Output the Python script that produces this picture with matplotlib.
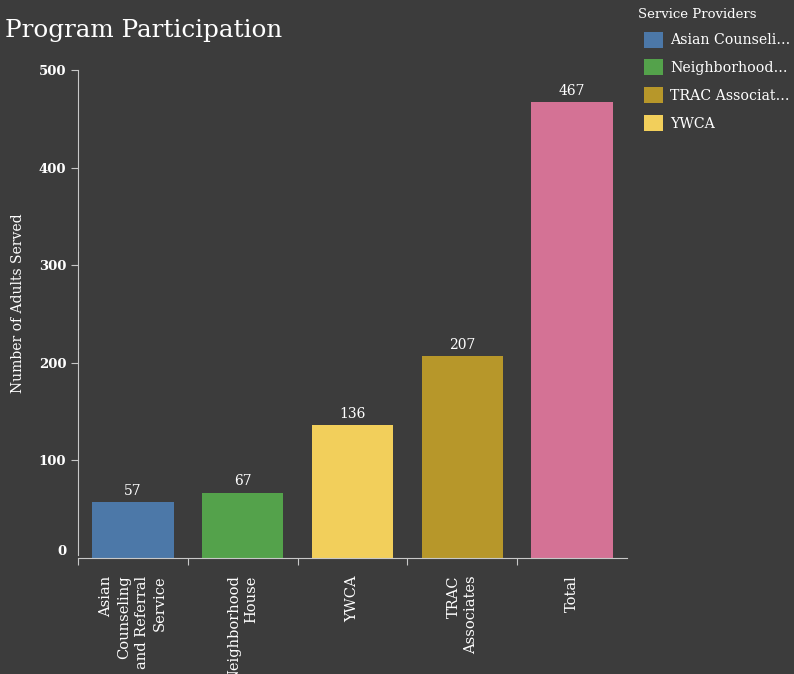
import matplotlib.pyplot as plt
from matplotlib.patches import Patch

providers = ['Asian\nCounseling\nand Referral\nService', 'Neighborhood\nHouse', 'YWCA', 'TRAC\nAssociates', 'Total']
adults_served = [57, 67, 136, 207, 467]
bar_colors = ['#4c78a8', '#54a24b', '#f2cf5b', '#b7972a', '#d47295']

legend_names = ['Asian Counseli…', 'Neighborhood…', 'TRAC Associat…', 'YWCA']
legend_colors = ['#4c78a8', '#54a24b', '#b7972a', '#f2cf5b']

bg = '#3c3c3c'
fg = '#ffffff'
axis_col = '#c8c8c8'

plt.rcParams['font.family'] = 'DejaVu Serif'

fig = plt.figure(figsize=(7.94, 6.74), dpi=100, facecolor=bg)
ax = fig.add_axes([78 / 794, 116 / 674, 549 / 794, 488 / 674])
ax.set_facecolor(bg)

x = list(range(len(adults_served)))
ax.bar(x, adults_served, width=0.74, color=bar_colors)
ax.set_xlim(-0.5, len(x) - 0.5)
ax.set_ylim(0, 500)

for xi, v in zip(x, adults_served):
    ax.annotate(str(v), (xi, v), xytext=(0, 3), textcoords='offset points',
                ha='center', va='bottom', color=fg, fontsize=10)

for s in ['top', 'right']:
    ax.spines[s].set_visible(False)
for s in ['left', 'bottom']:
    ax.spines[s].set_color(axis_col)
ax.spines['left'].set_bounds(3, 500)

# ticks on band edges, labels in the band centres
ax.set_xticks([i - 0.5 for i in x])
ax.set_xticklabels([])
ax.tick_params(axis='x', length=5, color=axis_col)
for xi, name in zip(x, providers):
    ax.text(xi, -18, name, rotation=90, ha='center', va='top', multialignment='right',
            color=fg, fontsize=10.5, linespacing=1.33)

ax.set_yticks([0, 100, 200, 300, 400, 500])
ax.tick_params(axis='y', length=5, color=axis_col, labelcolor=fg, labelsize=9.5)
for lbl in ax.get_yticklabels():
    lbl.set_fontweight('bold')
ax.get_yticklabels()[0].set_verticalalignment('bottom')
ax.yaxis.get_major_ticks()[0].tick1line.set_visible(False)
ax.set_ylabel('Number of Adults Served', color=fg, fontsize=10, labelpad=10)
ax.yaxis.set_label_coords(-0.097, 0.5225)

fig.text(5 / 794, 1 - 30 / 674, 'Program Participation', color=fg, fontsize=17.7,
         ha='left', va='center')

fig.text(638 / 794, 1 - 14 / 674, 'Service Providers', color=fg, fontsize=9.5,
         ha='left', va='center')
handles = [Patch(facecolor=c, edgecolor='none') for c in legend_colors]
leg = fig.legend(handles, legend_names, loc='upper left', bbox_to_anchor=(638 / 794, 1 - 26 / 674),
                 frameon=False, fontsize=10.2, handlelength=1.35, handleheight=1.35,
                 labelspacing=0.84, handletextpad=0.5, borderaxespad=0)
for t in leg.get_texts():
    t.set_color(fg)

fig.savefig('out.png', dpi=100, facecolor=bg)
